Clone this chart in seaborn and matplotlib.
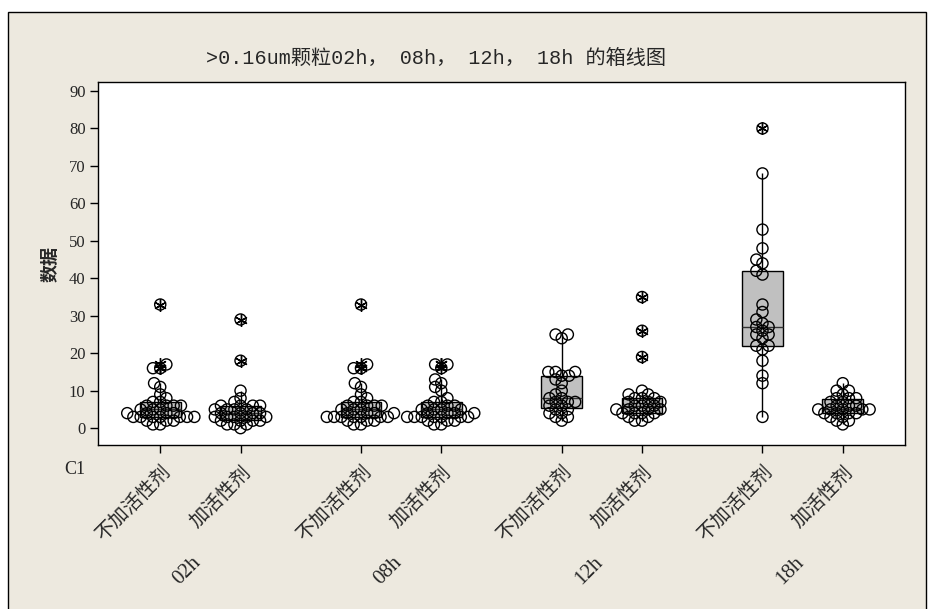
#! /usr/bin/python3
# -*- coding:utf-8 -*-
"""
seaborn 绘制 >0.16um 颗粒的箱线图 + 单值点。
"""
import pandas as pd
import seaborn as sns
import matplotlib.pyplot as plt
from matplotlib.patches import Rectangle

# 分组
times = ['02h', '08h', '12h', '18h']
agents = ['不加活性剂', '加活性剂']

# 各组数据
t02_no = [1, 1, 2, 2, 2, 3, 3, 3, 3, 3, 3, 3, 4, 4, 4, 4, 5, 5, 5, 6, 6, 6, 6, 7, 7, 8, 9, 11, 12, 16, 16, 17, 33]
t02_add = [0, 1, 1, 1, 2, 2, 2, 2, 3, 3, 3, 3, 3, 4, 4, 4, 4, 5, 5, 5, 5, 6, 6, 6, 6, 7, 8, 10, 18, 29]
t08_no = [1, 1, 2, 2, 2, 3, 3, 3, 3, 3, 3, 3, 4, 4, 4, 4, 5, 5, 5, 6, 6, 6, 6, 7, 7, 8, 9, 11, 12, 16, 16, 17, 33]
t08_add = [1, 1, 2, 2, 2, 3, 3, 3, 3, 3, 3, 3, 4, 4, 4, 4, 5, 5, 5, 5, 6, 6, 6, 7, 7, 8, 10, 11, 12, 13, 16, 17, 17]
t12_no = [2, 3, 3, 4, 4, 5, 5, 6, 6, 7, 7, 7, 8, 8, 9, 10, 12, 13, 14, 14, 15, 15, 15, 24, 25, 25]
t12_add = [2, 2, 3, 3, 4, 4, 4, 4, 5, 5, 5, 5, 6, 6, 6, 7, 7, 7, 8, 8, 8, 9, 9, 10, 19, 26, 35]
t18_no = [3, 12, 14, 18, 21, 22, 22, 24, 25, 25, 26, 27, 27, 28, 29, 31, 33, 41, 42, 44, 45, 48, 53, 68, 80]
t18_add = [1, 2, 2, 3, 3, 4, 4, 4, 4, 5, 5, 5, 5, 5, 6, 6, 6, 7, 7, 8, 8, 8, 9, 10, 10, 12]

groups = [
    ('02h', '不加活性剂', t02_no), ('02h', '加活性剂', t02_add),
    ('08h', '不加活性剂', t08_no), ('08h', '加活性剂', t08_add),
    ('12h', '不加活性剂', t12_no), ('12h', '加活性剂', t12_add),
    ('18h', '不加活性剂', t18_no), ('18h', '加活性剂', t18_add),
]
rows = [(t, a, v) for t, a, vals in groups for v in vals]
df = pd.DataFrame(rows, columns=['C2', 'C1', '数据'])

sns.set_style('ticks')
plt.rcParams['font.family'] = ['Liberation Serif', 'Noto Sans CJK SC']
plt.rcParams['axes.unicode_minus'] = False

W, H = 933, 609
fig = plt.figure(figsize=(W / 100, H / 100), dpi=100)
fig.patch.set_facecolor('white')
# Minitab 风格的米色图形区域
fig.patches.append(Rectangle((8 / W, -0.01), 918 / W, 1 - 12 / H + 0.01, transform=fig.transFigure,
                             facecolor='#EDE9DF', edgecolor='black', lw=1, zorder=-1))

ax = fig.add_axes([98 / W, 1 - 445 / H, 807 / W, 363 / H])
ax.set_facecolor('white')

grey = {a: '#C0C0C0' for a in agents}
sns.boxplot(data=df, x='C2', y='数据', hue='C1', order=times, hue_order=agents,
            palette=grey, width=0.8, gap=0.49, linecolor='black', linewidth=1,
            showcaps=False, whis=1.5, legend=False, ax=ax,
            medianprops=dict(color='#333333', linewidth=1),
            flierprops=dict(marker=(6, 2, 0), markersize=9, markeredgecolor='black',
                            markeredgewidth=1))
# 先用较小的点排布，使放大后的圆圈像 Minitab 一样互相重叠
sns.swarmplot(data=df, x='C2', y='数据', hue='C1', order=times, hue_order=agents,
              dodge=True, size=5, palette=grey, legend=False, ax=ax)

ax.set_xlim(-0.51, 3.51)
ax.set_ylim(-4.5, 92.4)
fig.canvas.draw()

for coll in ax.collections:
    if 'draw' in coll.__dict__:
        del coll.draw          # 固定已算好的位置
    coll.set_sizes([8.0 ** 2])
    coll.set_facecolor('none')
    coll.set_edgecolor('black')
    coll.set_linewidth(1)
    coll.set_zorder(3)
for ln in ax.lines:
    if ln.get_marker() not in (None, 'None', ''):
        ln.set_zorder(4)

ax.set_yticks(range(0, 91, 10))
ax.tick_params(axis='y', labelsize=12, length=6, width=1, color='black', pad=3)
ax.tick_params(axis='x', length=6, width=1, color='black', pad=6)

pos = [i + d for i in range(len(times)) for d in (-0.2, 0.2)]
ax.set_xticks(pos)
ax.set_xticklabels(agents * len(times), rotation=45, ha='right', va='top',
                   rotation_mode='anchor', fontsize=14)
for lab in ax.get_xticklabels():
    lab.set_family(['Noto Sans CJK SC'])

for i, t in enumerate(times):
    ax.text(i - 0.065, -0.347, t, transform=ax.get_xaxis_transform(), rotation=45,
            ha='center', va='center', fontsize=15)

for s in ax.spines.values():
    s.set_visible(True)
    s.set_color('black')
    s.set_linewidth(1)

ax.set_xlabel('')
ax.set_ylabel('数据', fontsize=13, fontweight='bold', family=['Noto Sans CJK SC'], labelpad=7)

fig.text(75 / W, 1 - 470 / H, 'C1', ha='center', va='center', fontsize=13)
fig.text(436 / W, 1 - 58 / H, '>0.16um颗粒02h， 08h， 12h， 18h 的箱线图',
         ha='center', va='center', fontsize=14.5, family=['Liberation Mono', 'Noto Sans CJK SC'])

fig.savefig('out.png', dpi=100, facecolor=fig.get_facecolor())
